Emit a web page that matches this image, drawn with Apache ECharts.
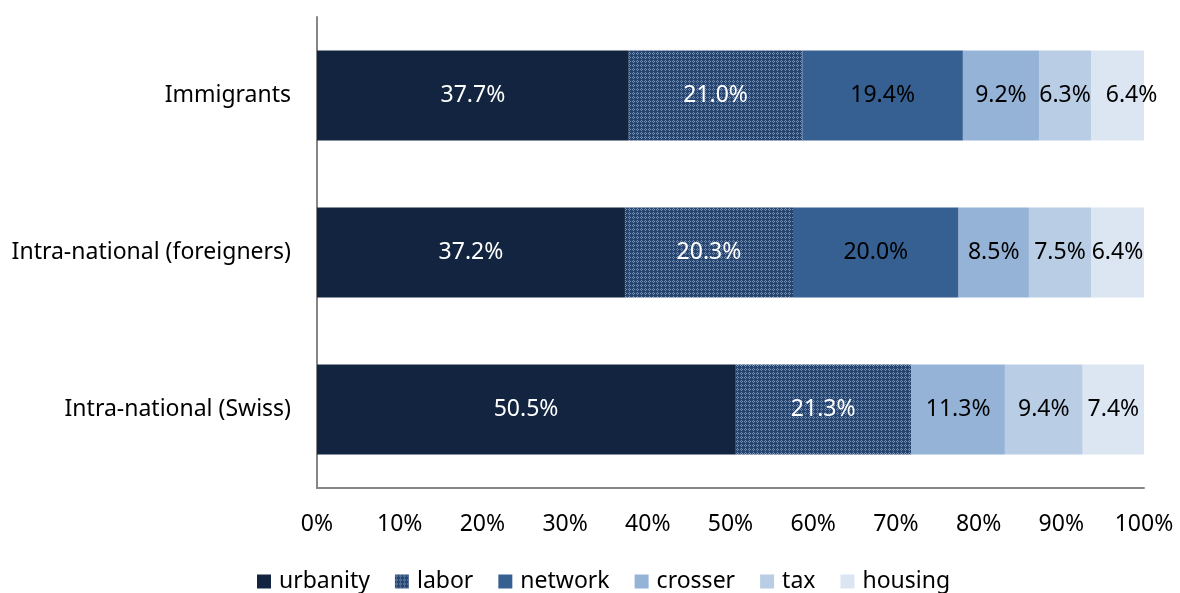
<!DOCTYPE html>
<html><head><meta charset="utf-8">
<script src="https://cdn.jsdelivr.net/npm/echarts@6/dist/echarts.min.js"></script>
<style>html,body{margin:0;padding:0;background:#fff}#c{width:1180px;height:593px}</style>
</head><body><div id="c"></div>
<script>
const categories = ['Immigrants', 'Intra-national (foreigners)', 'Intra-national (Swiss)'];
const seriesNames = ['urbanity', 'labor', 'network', 'crosser', 'tax', 'housing'];
const urbanity = [37.7, 37.2, 50.5];
const labor = [21.0, 20.3, 21.3];
const network = [19.4, 20.0, null];
const crosser = [9.2, 8.5, 11.3];
const tax = [6.3, 7.5, 9.4];
const housing = [6.4, 6.4, 7.4];
const xTickLabels = ['0%','10%','20%','30%','40%','50%','60%','70%','80%','90%','100%'];

const values = [urbanity, labor, network, crosser, tax, housing];
const colors = ['#12243f', null, '#376092', '#95b3d7', '#b9cde5', '#dce6f2'];
const labelColors = ['#ffffff', '#ffffff', '#000000', '#000000', '#000000', '#000000'];

// pattern for labor
const pc = document.createElement('canvas');
pc.width = 4; pc.height = 4;
const px = pc.getContext('2d');
px.fillStyle = '#264470'; px.fillRect(0,0,4,4);
px.fillStyle = '#7890b2';
[[1,0],[0,1],[2,1],[1,2]].forEach(p=>px.fillRect(p[0],p[1],1,1));
const laborPattern = {image: pc, repeat: 'repeat'};

const totals = categories.map((c,i)=>values.reduce((s,a)=>s+(a[i]||0),0));

const chart = echarts.init(document.getElementById('c'), null, {renderer:'canvas'});
const FONT = 'Noto Sans';
const FS = 23;
chart.setOption({
  animation: false,
  textStyle: {fontFamily: FONT},
  grid: {left: 317, right: 36, top: 17, bottom: 105, containLabel: false},
  legend: {
    top: 565, left: 252,
    itemWidth: 14, itemHeight: 14, itemGap: 25,
    icon: 'rect',
    textStyle: {fontSize: FS, color: '#000', fontFamily: FONT, padding: [0,0,0,3]},
    data: seriesNames
  },
  xAxis: {
    type: 'value', min: 0, max: 100, interval: 10,
    axisLine: {show: true, lineStyle: {color: '#868686', width: 2}},
    axisTick: {show: false},
    splitLine: {show: false},
    axisLabel: {fontSize: FS, color: '#000', margin: 25, fontFamily: FONT,
      formatter: (v)=>xTickLabels[Math.round(v/10)]}
  },
  yAxis: {
    type: 'category', data: categories, inverse: true,
    axisLine: {show: true, lineStyle: {color: '#868686', width: 2}},
    axisTick: {show: false},
    axisLabel: {fontSize: FS, color: '#000', margin: 26, fontFamily: FONT}
  },
  series: seriesNames.map((name, k) => ({
    name, type: 'bar', stack: 'all', barWidth: 90,
    itemStyle: {color: k === 1 ? laborPattern : colors[k]},
    label: {
      show: true, position: 'inside', fontSize: FS, color: labelColors[k], fontFamily: FONT,
      formatter: (p) => values[k][p.dataIndex] == null ? '' : values[k][p.dataIndex].toFixed(1) + '%'
    },
    data: values[k].map((v,i) => {
      const val = v == null ? null : v / totals[i] * 100;
      if (k === 5 && i === 0) return {value: val, label: {offset: [14, 0]}};
      return val;
    })
  }))
});
</script></body></html>
